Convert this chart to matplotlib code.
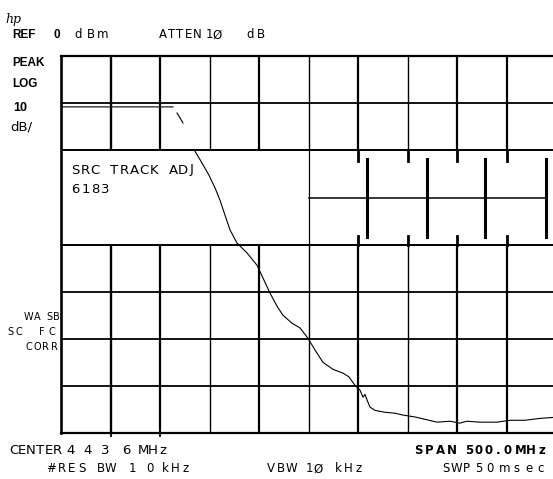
import matplotlib
matplotlib.use("Agg")
import matplotlib.pyplot as plt
import numpy as np

# --- analyzer settings ---
center_mhz = 443.6
span_mhz = 500.0
ref_dbm = 0.0
db_per_div = 10.0
n_xdiv = 10
n_ydiv = 8

# --- trace (MHz, dBm); NaN = gap in trace ---
trace_mhz = [193.6, 306.7, np.nan, 310.8, 316.8, np.nan,
             329.0, 336.0, 343.1, 349.2, 354.2, 359.3, 364.3, 371.4, 381.5,
             391.6, 397.6, 404.7, 411.8, 417.8, 426.9, 435.0, 443.1, 450.2,
             458.2, 468.4, 478.5, 484.5, 490.6, 495.6, 498.7, 500.7, 502.7,
             505.7, 510.8, 520.9, 531.0, 539.1, 551.2, 561.3, 573.4, 586.5,
             596.6, 603.7, 616.8, 634.0, 647.1, 662.3, 677.4, 690.6]
trace_dbm = [-10.8, -10.8, np.nan, -12.1, -14.2, np.nan,
             -20.2, -22.7, -25.3, -28.0, -30.6, -33.8, -36.9, -39.7, -41.8,
             -44.4, -47.1, -50.3, -53.1, -55.0, -56.7, -57.7, -59.9, -62.4,
             -65.0, -66.5, -67.3, -68.1, -69.9, -70.9, -72.4, -71.8, -73.0,
             -74.5, -75.2, -75.6, -75.8, -76.2, -76.6, -77.1, -77.7, -77.5,
             -77.9, -77.5, -77.7, -77.7, -77.3, -77.3, -76.9, -76.7]

# --- screen annotations (words as they appear) ---
ref_words = ["REF", "0", "dBm"]
atten_words = ["ATTEN", "1\u00d8", "dB"]
side_words = ["PEAK", "LOG", "10", "dB/"]
box_words = ["SRC", "TRACK", "ADJ", "6183"]
corr_words = [["WA", "SB"], ["SC", "FC"], ["CORR"]]
center_words = ["CENTER", "4 4 3", "6", "MHz"]
span_words = ["SPAN", "500.0", "MHz"]
rbw_words = ["#RES", "BW", "1", "0", "kHz"]
vbw_words = ["VBW", "1\u00d8", "kHz"]
swp_words = ["SWP", "5", "0", "msec"]

W, H = 553, 479
f_lo = center_mhz - span_mhz / 2
f_hi = center_mhz + span_mhz / 2
bot = ref_dbm - n_ydiv * db_per_div

fig = plt.figure(figsize=(W / 100, H / 100), dpi=100)
ax = fig.add_axes([61 / W, (H - 433) / H, 495 / W, 377 / H])
ax.set_xlim(f_lo, f_hi)
ax.set_ylim(bot, ref_dbm)
ax.set_xticks([])
ax.set_yticks([])
for s in ax.spines.values():
    s.set_linewidth(1.6)
ax.spines["left"].set_linewidth(1.9)


def px_x(x):
    return f_lo + (x - 61) / 49.5 * (span_mhz / n_xdiv)


def px_y(y):
    return ref_dbm - (y - 56) / 47.1 * db_per_div


# --- graticule ---
xdiv = span_mhz / n_xdiv
vlw = [1.7, 1.6, 1.0, 1.6, 1.0, 1.6, 1.0, 1.6, 1.6]
for i in range(1, n_xdiv):
    ax.axvline(f_lo + i * xdiv, color="black", lw=vlw[i - 1], zorder=1)
for j in range(1, n_ydiv):
    ax.axhline(ref_dbm - j * db_per_div, color="black", lw=1.3, zorder=1)

# small ticks below bottom edge
for i in (1, 2):
    ax.plot([f_lo + i * xdiv] * 2, [bot, bot - 0.7], color="black", lw=1.3,
            clip_on=False)

# label box blanking the -20..-40 dB row
ax.fill_between([f_lo, f_hi], -39.75, -20.25, color="white", zorder=2)
ax.axhline(-20, color="black", lw=1.3, zorder=3)
ax.axhline(-40, color="black", lw=1.3, zorder=3)
x_split = f_lo + 5 * xdiv
ax.plot([x_split, x_split], [-20, -40], color="black", lw=0.9, zorder=3)

# stubs of the main grid inside the row (right half)
for i in range(6, n_xdiv):
    xv = f_lo + i * xdiv
    ax.plot([xv, xv], [-20, -22.2], color="black", lw=2.0, zorder=3)
    ax.plot([xv, xv], [-38.2, -40], color="black", lw=2.0, zorder=3)

# shifted grid pasted in the right half of the row
off_x = [px_x(367), px_x(427), px_x(485), px_x(546)]
for xv in off_x:
    ax.plot([xv, xv], [px_y(159), px_y(237)], color="black", lw=2.2, zorder=3)
ax.plot([x_split, off_x[-1]], [-30.1, -30.1], color="black", lw=1.1, zorder=3)

# --- trace ---
ax.plot(trace_mhz, trace_dbm, color="black", lw=0.8, zorder=4)


# --- text: character-pitched like the analyzer's stroke font ---
def chars(x, y, s, pitch, size=8.5, **kw):
    for i, c in enumerate(s):
        if c != " ":
            fig.text((x + 3.5 + i * pitch) / W, 1 - y / H, c, fontsize=size,
                     ha="center", va="center", **kw)


def txt(x, y, s, size=8, **kw):
    fig.text(x / W, 1 - y / H, s, fontsize=size, va="center", **kw)


fig.text(5 / W, 1 - 19 / H, "hp", fontsize=9, style="italic", va="center",
         family="DejaVu Serif")

bold = dict(family="Liberation Sans", fontweight="bold")
txt(12, 35, ref_words[0], 8.5, **bold)
txt(53, 35, ref_words[1], 8.5, **bold)
chars(75, 35, ref_words[2], 12, 8.5)
chars(159, 35, atten_words[0], 8.7, 8.5)
chars(206, 35, atten_words[1], 7.5, 8.5)
chars(247, 35, atten_words[2], 10, 8.5)

txt(12, 63, side_words[0], 8.5, **bold)
txt(12, 84, side_words[1], 8.5, **bold)
txt(13, 108, side_words[2], 9, **bold)
txt(10, 127, side_words[3], 9.5)

chars(72, 170, box_words[0], 9.5, 9.5)
chars(111, 170, box_words[1], 9.8, 9.5)
chars(170, 170, box_words[2], 9.0, 9.5)
chars(72, 190, box_words[3], 10, 9.5)

chars(25, 317, corr_words[0][0], 8.5, 7)
chars(46, 317, corr_words[0][1], 6.5, 7)
chars(7, 332, corr_words[1][0], 8, 7)
chars(38, 332, corr_words[1][1], 10, 7)
chars(25, 347, corr_words[2][0], 8.5, 7)

chars(10, 450, center_words[0], 8.8, 9.5)
chars(67, 450, center_words[1], 8.75, 9.5)
chars(123, 450, center_words[2], 9, 9.5)
chars(140, 450, center_words[3], 9.5, 9.5)

sb = dict(fontweight="bold")
chars(415, 450, span_words[0], 11, 8.5, **sb)
chars(466, 450, span_words[1], 9.5, 8.5, **sb)
chars(517, 450, span_words[2], 10.5, 8.5, **sb)

chars(48, 469, rbw_words[0], 10, 8.5)
chars(97, 469, rbw_words[1], 10, 8.5)
chars(129, 469, rbw_words[2], 9, 8.5)
chars(146, 469, rbw_words[3], 9, 8.5)
chars(162, 469, rbw_words[4], 10, 8.5)

chars(267, 469, vbw_words[0], 10.5, 8.5)
chars(306, 469, vbw_words[1], 9, 8.5)
chars(335, 469, vbw_words[2], 10, 8.5)

chars(442, 469, swp_words[0], 10.5, 8.5)
chars(475, 469, swp_words[1], 9, 8.5)
chars(486, 469, swp_words[2], 9, 8.5)
chars(501, 469, swp_words[3], 12, 8.5)

fig.savefig("out.png", dpi=100)
